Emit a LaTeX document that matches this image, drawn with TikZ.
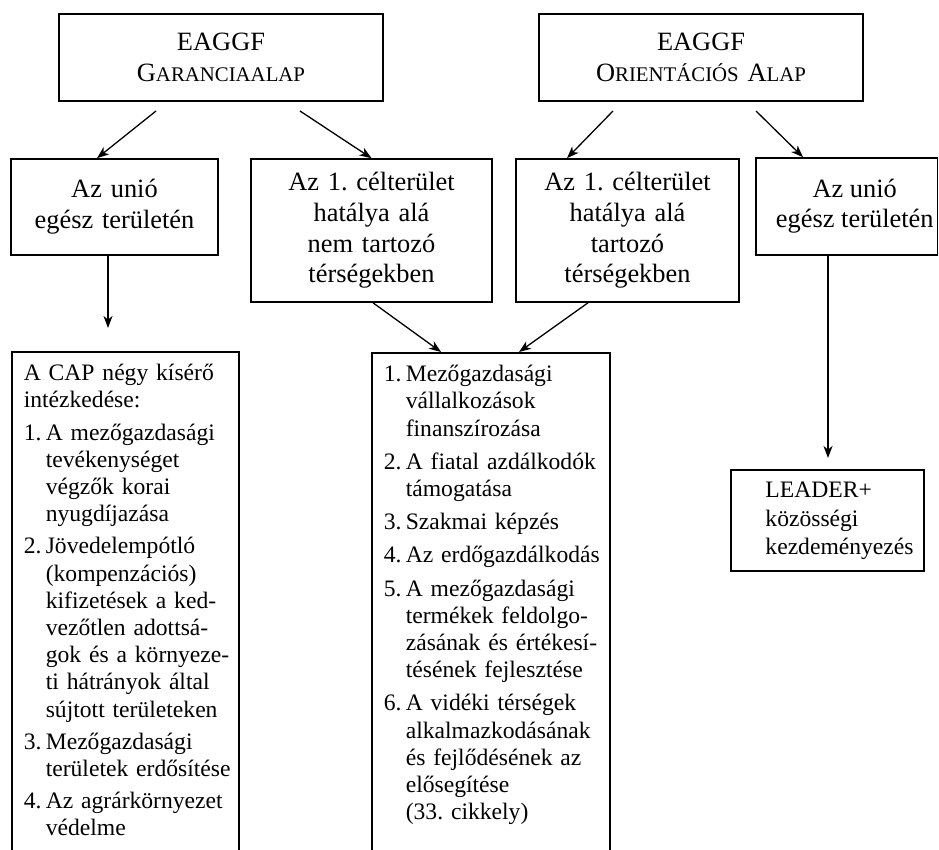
\documentclass[tikz,border=0pt]{standalone}
\usepackage{fontspec}
\setmainfont{Liberation Serif}
\usetikzlibrary{arrows.meta}
\frenchspacing
\newcommand\kisbetu[1]{{\fontsize{20.8}{30.7}\selectfont #1}}
\newlength\hangw
\newcommand\listsetup[2]{\parindent=0pt\leftskip=0pt\rightskip=-30pt plus 1fil\parfillskip=0pt plus 1fil\parskip=#1\relax\setlength\hangw{#2}}
\newcommand\itm[2]{\hangindent=\hangw\hangafter=1\noindent\makebox[\hangw][l]{#1}#2\par}
\tikzset{
  boxline/.style={draw, line width=1.6pt},
  topbox/.style={boxline, inner sep=0pt, align=center, font=\fontsize{26.4}{30.7}\selectfont},
  listbox/.style={boxline, anchor=north west, inner xsep=12pt, inner ysep=12.5pt, text depth=520pt, font=\fontsize{23.6}{27.2}\selectfont},
  arr/.style={line width=1.3pt, -{Stealth[length=12pt,width=9pt,inset=3.5pt]}}
}
\begin{document}
\begin{tikzpicture}[x=1pt,y=-1pt]
\useasboundingbox (0,0) rectangle (939,850);
\clip (0,0) rectangle (939,850);
% top row
\node[topbox, minimum width=324pt, minimum height=87pt, text width=300pt] (g) at (221,57.5)
  {EAGGF\\G\kisbetu{ARANCIAALAP}};
\node[topbox, minimum width=324pt, minimum height=87pt, text width=300pt] (o) at (701,57.5)
  {EAGGF\\O\kisbetu{RIENTÁCIÓS} A\kisbetu{LAP}};
% second row
\node[topbox, minimum width=207pt, minimum height=96pt, text width=200pt] (ul) at (114.5,207)
  {Az unió\\egész területén};
\node[topbox, minimum width=241pt, minimum height=143pt, text width=235pt] (nt) at (371.5,230.5)
  {Az 1. célterület\\hatálya alá\\nem tartozó\\térségekben};
\node[topbox, minimum width=223pt, minimum height=143pt, text width=215pt] (tt) at (627.5,230.5)
  {Az 1. célterület\\hatálya alá\\tartozó\\térségekben};
\node[boxline, inner sep=0pt, font=\fontsize{26.4}{30.7}\selectfont, minimum width=181.5pt, minimum height=97pt] (ur) at (846.75,206.5)
  {\hspace*{16pt}\begin{tabular}{@{}c@{}}Az unió\\egész területén\end{tabular}};
% bottom row
\node[listbox, text width=203pt] (left) at (11,351) {\listsetup{5pt}{22pt}%
A CAP négy kísérő\newline intézkedése:\par
\itm{1.}{A mezőgazdasági\newline tevékenységet\newline végzők korai\newline nyugdíjazása}%
\itm{2.}{Jövedelempótló\newline (kompenzációs)\newline kifizetések a ked-\newline vezőtlen adottsá-\newline gok és a környeze-\newline ti hátrányok által\newline sújtott területeken}%
\itm{3.}{Mezőgazdasági\newline területek erdősítése}%
\itm{4.}{Az agrárkörnyezet\newline védelme}};
\node[listbox, text width=214pt] (mid) at (371,352) {\listsetup{6pt}{22pt}%
\itm{1.}{Mezőgazdasági\newline vállalkozások\newline finanszírozása}%
\itm{2.}{A fiatal azdálkodók\newline támogatása}%
\itm{3.}{Szakmai képzés}%
\itm{4.}{Az erdőgazdálkodás}%
\itm{5.}{A mezőgazdasági\newline termékek feldolgo-\newline zásának és értékesí-\newline tésének fejlesztése}%
\itm{6.}{A vidéki térségek\newline alkalmazkodásának\newline és fejlődésének az\newline elősegítése\newline (33. cikkely)}};
\node[boxline, minimum width=193pt, minimum height=101pt, inner sep=0pt, font=\fontsize{23.6}{28.5}\selectfont] (leader) at (827.5,520.5)
  {\hspace*{24pt}\begin{tabular}{@{}l@{}}LEADER+\\közösségi\\kezdeményezés\end{tabular}};
% free ends
\coordinate (c1) at (156,111);
\coordinate (c2) at (300,111);
\coordinate (c3) at (613,111);
\coordinate (c4) at (756,111);
\coordinate (c5) at (108,328);
\coordinate (c6) at (828,458);
% connectors
\draw[arr] (c1) -- ([xshift=-17.5pt]ul.north);
\draw[arr] (c2) -- (nt.north);
\draw[arr] (c3) -- ([xshift=-60.5pt]tt.north);
\draw[arr] (c4) -- ([xshift=-43.75pt]ur.north);
\draw[arr] ([xshift=-6.5pt]ul.south) -- (c5);
\draw[arr] ([xshift=1.5pt]nt.south) -- ([xshift=70pt]mid.north west);
\draw[arr] ([xshift=-39.5pt]tt.south) -- ([xshift=148pt]mid.north west);
\draw[arr] ([xshift=-18.75pt]ur.south) -- (c6);
\end{tikzpicture}
\end{document}
